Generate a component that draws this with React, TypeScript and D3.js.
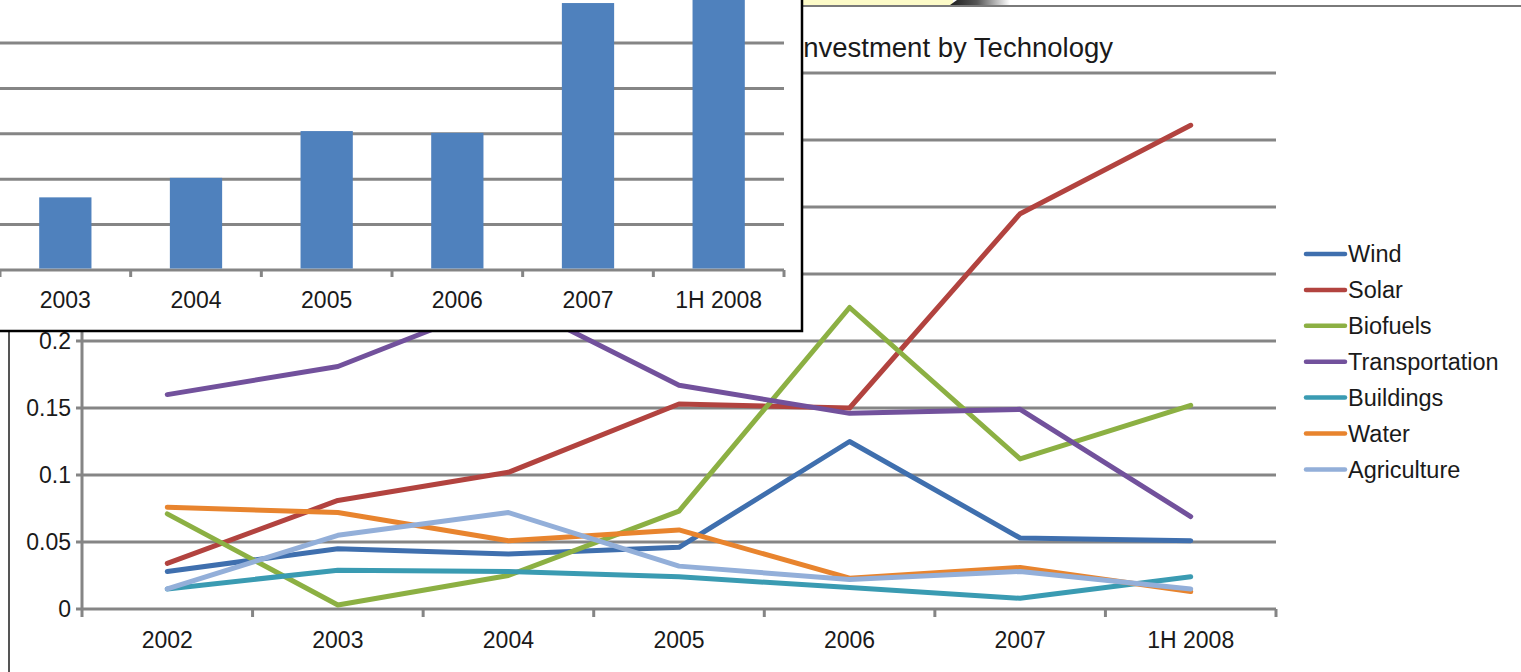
import React, { useEffect, useRef } from 'react';
import * as d3 from 'd3';

// line chart categories and series (share of investment)
const years = ['2002', '2003', '2004', '2005', '2006', '2007', '1H 2008'];
const wind = [0.028, 0.045, 0.041, 0.046, 0.125, 0.053, 0.051];
const solar = [0.034, 0.081, 0.102, 0.153, 0.150, 0.295, 0.361];
const biofuels = [0.071, 0.003, 0.025, 0.073, 0.225, 0.112, 0.152];
const transportation = [0.160, 0.181, 0.231, 0.167, 0.146, 0.149, 0.069];
const buildings = [0.015, 0.029, 0.028, 0.024, 0.016, 0.008, 0.024];
const water = [0.076, 0.072, 0.051, 0.059, 0.023, 0.031, 0.013];
const agriculture = [0.015, 0.055, 0.072, 0.032, 0.022, 0.028, 0.015];
const yTicks = [0, 0.05, 0.1, 0.15, 0.2, 0.25, 0.3, 0.35, 0.4];

// inset bar chart (total investment, gridline units)
const barYears = ['2003', '2004', '2005', '2006', '2007', '1H 2008'];
const barValues = [1.6, 2.03, 3.06, 3.02, 5.88, 6.3];
const barTicks = [0, 1, 2, 3, 4, 5, 6, 7];

const series = [
  { name: 'Wind', color: '#3f6fae', values: wind },
  { name: 'Solar', color: '#b2433f', values: solar },
  { name: 'Biofuels', color: '#8cb043', values: biofuels },
  { name: 'Transportation', color: '#72519c', values: transportation },
  { name: 'Buildings', color: '#3a9bb2', values: buildings },
  { name: 'Water', color: '#e8842e', values: water },
  { name: 'Agriculture', color: '#93afd9', values: agriculture },
];

const FONT = '"Liberation Sans", Arial, Helvetica, sans-serif';
const GRID = '#858585';
const TEXT = '#1a1a1a';

export default function App() {
  const ref = useRef<SVGSVGElement>(null);

  useEffect(() => {
    document.body.style.margin = '0';
    document.body.style.overflow = 'hidden';
    if (!ref.current) return;
    const svg = d3.select(ref.current);
    svg.selectAll('*').remove();
    svg.append('rect').attr('width', 1521).attr('height', 672).attr('fill', 'white');

    // --- background tab artefacts at top ---
    const defs = svg.append('defs');
    const grad = defs.append('linearGradient').attr('id', 'tabGrad').attr('x1', '0').attr('x2', '1');
    grad.append('stop').attr('offset', '0').attr('stop-color', '#1e1e1e');
    grad.append('stop').attr('offset', '0.45').attr('stop-color', '#555');
    grad.append('stop').attr('offset', '1').attr('stop-color', '#ffffff');
    svg.append('rect').attr('x', 803).attr('y', 0).attr('width', 150).attr('height', 5).attr('fill', '#fdfbc8');
    svg.append('path').attr('d', 'M950,5 L957,0 L1010,0 L1010,5 Z').attr('fill', 'url(#tabGrad)');
    svg.append('line').attr('x1', 803).attr('x2', 1521).attr('y1', 6).attr('y2', 6)
      .attr('stroke', '#7a7a7a').attr('stroke-width', 2);
    // main frame left edge
    svg.append('line').attr('x1', 9).attr('x2', 9).attr('y1', 331).attr('y2', 672)
      .attr('stroke', '#555').attr('stroke-width', 2);

    // --- main line chart ---
    const x = d3.scaleBand<string>().domain(years).range([82, 1276]);
    const cx = (d: string) => (x(d) as number) + x.bandwidth() / 2;
    const y = d3.scaleLinear().domain([0, 0.4]).range([609, 73]);
    const g = svg.append('g');

    g.append('text').attr('x', 1113).attr('y', 57).attr('text-anchor', 'end')
      .attr('font-family', FONT).attr('font-size', 27.5).attr('fill', TEXT)
      .text('Venture Capital Investment by Technology');

    g.selectAll('line.grid').data(yTicks).join('line').attr('class', 'grid')
      .attr('x1', 76).attr('x2', 1276).attr('y1', d => y(d)).attr('y2', d => y(d))
      .attr('stroke', GRID).attr('stroke-width', 3);
    g.append('line').attr('x1', 82).attr('x2', 82).attr('y1', y(0.4)).attr('y2', y(0))
      .attr('stroke', GRID).attr('stroke-width', 3);
    const bounds = years.map(d => x(d) as number).concat([1276]);
    g.selectAll('line.xt').data(bounds).join('line').attr('class', 'xt')
      .attr('x1', d => d).attr('x2', d => d).attr('y1', y(0)).attr('y2', y(0) + 8)
      .attr('stroke', GRID).attr('stroke-width', 3);
    g.selectAll('text.yl').data(yTicks).join('text').attr('class', 'yl')
      .attr('x', 71).attr('y', d => y(d)).attr('dy', '0.35em').attr('text-anchor', 'end')
      .attr('font-family', FONT).attr('font-size', 23).attr('fill', TEXT)
      .text(d => d3.format('~g')(d));
    g.selectAll('text.xl').data(years).join('text').attr('class', 'xl')
      .attr('x', d => cx(d)).attr('y', 648).attr('text-anchor', 'middle')
      .attr('font-family', FONT).attr('font-size', 23).attr('fill', TEXT)
      .text(d => d);

    const line = d3.line<number>().x((_, i) => cx(years[i])).y(d => y(d));
    series.forEach(s => {
      g.append('path').datum(s.values).attr('d', line).attr('fill', 'none')
        .attr('stroke', s.color).attr('stroke-width', 5).attr('stroke-linejoin', 'round')
        .attr('stroke-linecap', 'round');
    });

    // legend
    const lg = svg.append('g');
    series.forEach((s, i) => {
      const ly = 254 + i * 35.9;
      lg.append('line').attr('x1', 1306).attr('x2', 1345).attr('y1', ly).attr('y2', ly)
        .attr('stroke', s.color).attr('stroke-width', 4.5).attr('stroke-linecap', 'round');
      lg.append('text').attr('x', 1348).attr('y', ly).attr('dy', '0.36em')
        .attr('font-family', FONT).attr('font-size', 23.5).attr('fill', TEXT).text(s.name);
    });

    // --- inset bar chart ---
    const ins = svg.append('g');
    ins.append('rect').attr('x', -3).attr('y', -3).attr('width', 805).attr('height', 334)
      .attr('fill', 'white').attr('stroke', '#000').attr('stroke-width', 2.5);
    const bx = d3.scaleBand<string>().domain(barYears).range([0, 784]).paddingInner(0.6).paddingOuter(0.3);
    const bandX = d3.scaleBand<string>().domain(barYears).range([0, 784]);
    const by = d3.scaleLinear().domain([0, 7]).range([270, 270 - 7 * 45.4]);
    ins.selectAll('line.bg').data(barTicks).join('line').attr('class', 'bg')
      .attr('x1', 0).attr('x2', 784).attr('y1', d => by(d)).attr('y2', d => by(d))
      .attr('stroke', GRID).attr('stroke-width', 3);
    const bb = barYears.map(d => bandX(d) as number).concat([784]);
    ins.selectAll('line.bt').data(bb).join('line').attr('class', 'bt')
      .attr('x1', d => d).attr('x2', d => d).attr('y1', by(0)).attr('y2', by(0) + 7)
      .attr('stroke', GRID).attr('stroke-width', 3);
    ins.selectAll('rect.bar').data(barValues).join('rect').attr('class', 'bar')
      .attr('x', (_, i) => bandX(barYears[i])! + bandX.bandwidth() / 2 - bx.bandwidth() / 2)
      .attr('width', bx.bandwidth())
      .attr('y', d => by(d)).attr('height', d => by(0) - by(d) - 1.5)
      .attr('fill', '#4f81bd');
    ins.selectAll('text.bl').data(barYears).join('text').attr('class', 'bl')
      .attr('x', d => bandX(d)! + bandX.bandwidth() / 2).attr('y', 308).attr('text-anchor', 'middle')
      .attr('font-family', FONT).attr('font-size', 23).attr('fill', TEXT)
      .text(d => d);
  }, []);

  return (
    <svg ref={ref} width={1521} height={672}
      style={{ position: 'absolute', left: 0, top: 0, display: 'block' }} />
  );
}
